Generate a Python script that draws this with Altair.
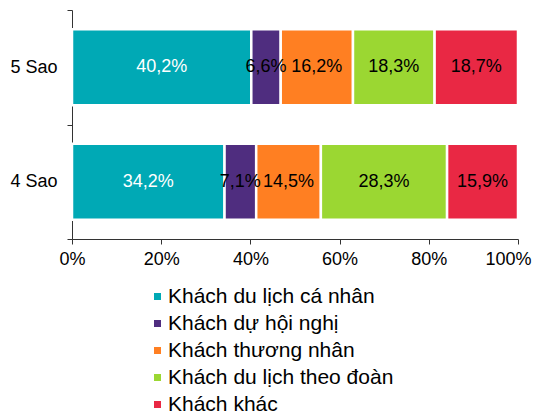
import altair as alt
import pandas as pd

groups = ["5 Sao", "4 Sao"]
categories = ["Khách du lịch cá nhân", "Khách dự hội nghị", "Khách thương nhân",
              "Khách du lịch theo đoàn", "Khách khác"]
colors = ["#00A9B5", "#4F2D7F", "#FF7F22", "#9BD732", "#E92844"]
values_5 = [40.2, 6.6, 16.2, 18.3, 18.7]
values_4 = [34.2, 7.1, 14.5, 28.3, 15.9]
x_ticks = [0, 20, 40, 60, 80, 100]

rows = []
for g, vals in zip(groups, [values_5, values_4]):
    for i, (c, v) in enumerate(zip(categories, vals)):
        rows.append({"group": g, "cat": c, "order": i, "value": v})
df = pd.DataFrame(rows)

FONT = "Liberation Sans"
AXC = "#333333"

base = alt.Chart(df).transform_stack(
    stack="value", groupby=["group"], as_=["x0", "x1"],
    sort=[alt.SortField("order", order="ascending")]
).transform_calculate(
    mid="(datum.x0 + datum.x1) / 2",
    label="replace(format(datum.value, '.1f'), '.', ',') + '%'"
)

y = alt.Y("group:N", sort=groups, title=None,
          scale=alt.Scale(paddingInner=0, paddingOuter=0),
          axis=alt.Axis(tickBand="extent", labelFontSize=18, labelPadding=10,
                        tickSize=5, domainColor=AXC, tickColor=AXC,
                        labelColor="#000000", labelFont=FONT, title=None))

xscale = alt.Scale(domain=[0, 100], nice=False)

bars = base.mark_bar(stroke="white", strokeWidth=2.5,
                     height=alt.RelativeBandSize(0.665)).encode(
    x=alt.X("x0:Q", title=None, scale=xscale,
            axis=alt.Axis(values=x_ticks, labelExpr="datum.value + '%'", title=None,
                          grid=False, labelFontSize=18, tickSize=5, labelPadding=6,
                          labelFlush=True, labelFlushOffset=13,
                          domainColor=AXC, tickColor=AXC,
                          labelColor="#000000", labelFont=FONT)),
    x2="x1:Q",
    y=y,
    color=alt.Color("cat:N", sort=categories,
                    scale=alt.Scale(domain=categories, range=colors),
                    legend=alt.Legend(title=None, orient="none", legendX=75, legendY=276,
                                      direction="vertical", symbolType="square",
                                      symbolSize=49, symbolStrokeWidth=0,
                                      labelFontSize=21, labelFont=FONT, labelLimit=400,
                                      labelColor="#000000", rowPadding=5,
                                      labelOffset=0, padding=0)),
)

texts = base.mark_text(fontSize=18, font=FONT).encode(
    x=alt.X("mid:Q", title=None, scale=xscale),
    y=alt.Y("group:N", sort=groups, title=None),
    text="label:N",
    color=alt.condition("datum.order == 0", alt.value("white"), alt.value("black")),
)

chart = (bars + texts).properties(
    width=446, height=229,
    autosize=alt.AutoSizeParams(type="none"),
    padding={"left": 64, "top": 2, "right": 16, "bottom": 180}
).configure_view(stroke=None).configure_axis(grid=False)

chart.save("out.html", embed_options={"renderer": "svg", "actions": False})
